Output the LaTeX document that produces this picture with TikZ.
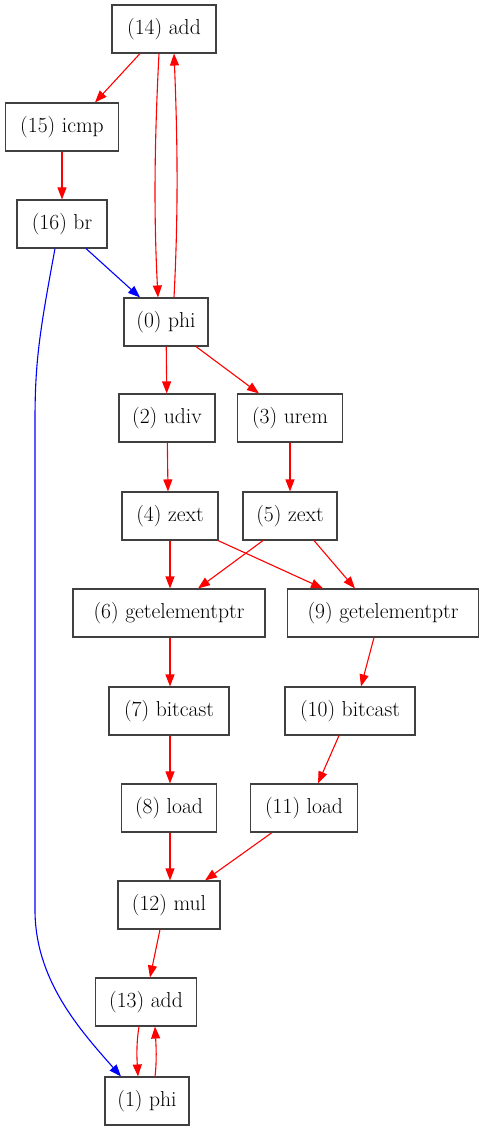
\documentclass[tikz,border=0pt]{standalone}
\usetikzlibrary{arrows.meta}
\begin{document}
\begin{tikzpicture}[x=1pt,y=-1pt,
  nd/.style={draw=black!75,line width=1.1pt,minimum height=48pt,inner sep=0pt,font=\fontsize{21.6}{26}\selectfont},
  re/.style={draw=red,line width=1.1pt,-{Triangle[length=12pt,width=9pt]},color=red},
  bl/.style={draw=blue,line width=1.1pt,-{Triangle[length=12pt,width=9pt]},color=blue}]
\useasboundingbox (0,0) rectangle (485,1131);
\node[nd,minimum width=104pt] (n14) at (164,29) {(14) add};
\node[nd,minimum width=113pt] (n15) at (62,127) {(15) icmp};
\node[nd,minimum width=90pt] (n16) at (62,224) {(16) br};
\node[nd,minimum width=84pt] (n0) at (166,322) {(0) phi};
\node[nd,minimum width=96pt] (n2) at (167,418) {(2) udiv};
\node[nd,minimum width=105pt] (n3) at (290,418) {(3) urem};
\node[nd,minimum width=96pt] (n4) at (170,516) {(4) zext};
\node[nd,minimum width=94pt] (n5) at (290,516) {(5) zext};
\node[nd,minimum width=192pt] (n6) at (169,613) {(6) getelementptr};
\node[nd,minimum width=191pt] (n9) at (383,613) {(9) getelementptr};
\node[nd,minimum width=120pt] (n7) at (169,711) {(7) bitcast};
\node[nd,minimum width=130pt] (n10) at (350,711) {(10) bitcast};
\node[nd,minimum width=95pt] (n8) at (169,808) {(8) load};
\node[nd,minimum width=107pt] (n11) at (304,808) {(11) load};
\node[nd,minimum width=102pt] (n12) at (169,905) {(12) mul};
\node[nd,minimum width=101pt] (n13) at (146,1002) {(13) add};
\node[nd,minimum width=84pt] (n1) at (147,1101) {(1) phi};
\draw[re] (n14.south -| 140,0) -- (n15.north -| 95,0);
\draw[re] (n14.south -| 159,0) .. controls (154,150) and (154,220) .. (n0.north -| 158,0);
\draw[re] (n0.north -| 174,0) .. controls (178,220) and (178,150) .. (n14.south -| 174,0);
\draw[re] (n15) -- (n16);
\draw[bl] (n16.south -| 86,0) -- (n0.north -| 140,0);
\draw[bl] (n16.south -| 55,0) .. controls (40,330) and (35,360) .. (35,420) -- (35,910) .. controls (35,980) and (80,1030) .. (n1.north -| 121,0);
\draw[re] (n0) -- (n2);
\draw[re] (n0.south -| 196,0) -- (n3.north -| 259,0);
\draw[re] (n2) -- (n4.north -| 168,0);
\draw[re] (n3) -- (n5);
\draw[re] (n4.south -| 170,0) -- (n6.north -| 170,0);
\draw[re] (n4.south -| 218,0) -- (n9.north -| 323,0);
\draw[re] (n5.south -| 263,0) -- (n6.north -| 198,0);
\draw[re] (n5.south -| 314,0) -- (n9.north -| 355,0);
\draw[re] (n6.south -| 170,0) -- (n7.north -| 170,0);
\draw[re] (n9.south -| 374,0) -- (n10.north -| 361,0);
\draw[re] (n7.south -| 170,0) -- (n8.north -| 170,0);
\draw[re] (n10.south -| 339,0) -- (n11.north -| 318,0);
\draw[re] (n8.south -| 170,0) -- (n12.north -| 170,0);
\draw[re] (n11.south -| 272,0) -- (n12.north -| 205,0);
\draw[re] (n12.south -| 160,0) -- (n13.north -| 150,0);
\draw[re] (n13.south -| 139,0) .. controls (136,1045) and (137,1060) .. (n1.north -| 138,0);
\draw[re] (n1.north -| 155,0) .. controls (157,1060) and (156,1045) .. (n13.south -| 155,0);
\end{tikzpicture}
\end{document}
